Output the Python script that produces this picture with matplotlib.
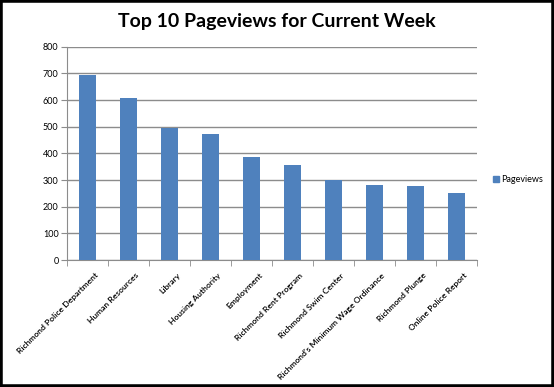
import matplotlib
matplotlib.use("Agg")
import matplotlib.pyplot as plt
import matplotlib.transforms as mtransforms
from matplotlib.patches import Rectangle, Patch

categories = ["Richmond Police Department", "Human Resources", "Library", "Housing Authority",
              "Employment", "Richmond Rent Program", "Richmond Swim Center",
              "Richmond's Minimum Wage Ordinance", "Richmond Plunge", "Online Police Report"]
pageviews = [693, 606, 496, 473, 385, 356, 300, 281, 277, 250]
yticks = [0, 100, 200, 300, 400, 500, 600, 700, 800]

W, H = 554, 387
fig = plt.figure(figsize=(W/100, H/100), dpi=100)
plt.rcParams['font.family'] = ['Lato', 'DejaVu Sans']

ax = fig.add_axes([67/W, 1-260/H, (477-67)/W, (260-46.7)/H])
x = list(range(len(categories)))
ax.bar(x, pageviews, width=0.41, color="#4F81BD", zorder=3, label="Pageviews")
ax.set_xlim(-0.5, len(categories)-0.5)
ax.set_ylim(0, 800)
ax.set_yticks(yticks)
ax.set_yticklabels([str(v) for v in yticks], fontsize=6.5)
ax.yaxis.grid(True, color="#8C8C8C", linewidth=1, zorder=0)
ax.set_axisbelow(True)
for s in ["top", "right"]:
    ax.spines[s].set_visible(False)
for s in ["left", "bottom"]:
    ax.spines[s].set_color("#8C8C8C")
ax.tick_params(axis="y", length=4, color="#8C8C8C", pad=2)
ax.set_xticks([i + 0.5 for i in range(-1, len(categories))], minor=True)
ax.set_xticks(x)
ax.set_xticklabels(categories, rotation=45, ha="right", rotation_mode="anchor",
                   fontsize=6.1, fontweight="semibold")
ax.tick_params(axis="x", which="major", length=0, pad=7)
ax.tick_params(axis="x", which="minor", length=4, color="#8C8C8C")
offset = mtransforms.ScaledTranslation(0.07, -0.02, fig.dpi_scale_trans)
for lbl in ax.get_xticklabels():
    lbl.set_transform(lbl.get_transform() + offset)

fig.text(277/W, 1-22/H, "Top 10 Pageviews for Current Week", ha="center", va="center",
         fontsize=14, fontweight="bold", color="black")

fig.legend(handles=[Patch(color="#4F81BD", label="Pageviews")], loc="center left",
           bbox_to_anchor=(485/W, 1-180/H), frameon=False, fontsize=6.5,
           handlelength=0.6, handleheight=0.6, handletextpad=0.3)

fig.patches.append(Rectangle((0, 0), 1, 1, transform=fig.transFigure, fill=False,
                             edgecolor="black", linewidth=4))
fig.savefig("out.png", dpi=100)
